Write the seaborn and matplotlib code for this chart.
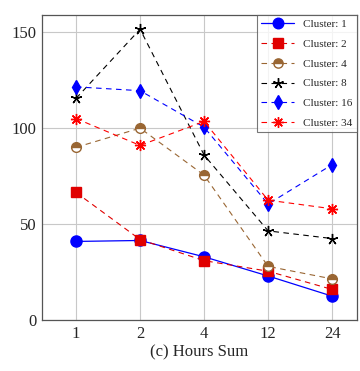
import pandas as pd
import numpy as np
import matplotlib.pyplot as plt
import seaborn as sns

hours = ['1', '2', '4', '12', '24']
c1 = [41, 41.5, 33, 23, 12.5]
c2 = [66.5, 42, 31, 25.5, 16]
c4 = [90, 100, 75.5, 28, 21.5]
c8 = [115.5, 151.5, 86, 46.5, 42.5]
c16 = [121.5, 119.5, 100.5, 60.5, 81]
c34 = [105, 91, 103.5, 62.5, 58]

labels = ['Cluster: 1', 'Cluster: 2', 'Cluster: 4', 'Cluster: 8', 'Cluster: 16', 'Cluster: 34']
series = [c1, c2, c4, c8, c16, c34]

brown = '#996633'
styles = [
    dict(color='blue', marker='o', ls='-', ms=8, lw=0.9),
    dict(color='#e00000', marker='s', ls=(0, (5, 4)), ms=7.5, lw=0.8),
    dict(color=brown, marker='o', ls=(0, (5, 4)), ms=7, lw=0.8, fillstyle='top', markerfacecoloralt='white'),
    dict(color='black', marker=(5, 2, 0), ls=(0, (5, 4)), ms=8, lw=0.8),
    dict(color='blue', marker='d', ls=(0, (5, 4)), ms=7, lw=0.8),
    dict(color='red', marker=(8, 2, 0), ls=(0, (5, 4)), ms=8, lw=0.8),
]

sns.set_style('whitegrid')
plt.rcParams['font.family'] = ['Liberation Serif', 'DejaVu Serif']
plt.rcParams['mathtext.fontset'] = 'stix'

fig, ax = plt.subplots(figsize=(3.6, 3.71), dpi=100)
for lab, vals, st in zip(labels, series, styles):
    df = pd.DataFrame({'Hours': hours, 'Value': vals})
    sns.lineplot(data=df, x='Hours', y='Value', ax=ax, sort=False, label=lab,
                 color=st['color'], marker=st['marker'], markersize=st['ms'],
                 linewidth=st['lw'], markeredgewidth=1 if st['marker'] in ['o', 's', 'd'] else 1.0,
                 markeredgecolor=st['color'])
    line = ax.lines[-1]
    line.set_linestyle(st['ls'])
    if 'fillstyle' in st:
        line.set_fillstyle(st['fillstyle'])
        line.set_markerfacecoloralt(st['markerfacecoloralt'])

ax.set_xlim(-0.53, 4.39)
ax.set_ylim(0, 159)
ax.set_yticks([0, 50, 100, 150])
ax.set_xlabel('(c) Hours Sum', fontsize=12, labelpad=2)
ax.set_ylabel('')
ax.tick_params(labelsize=12, length=0, pad=4)
ax.grid(True, color='#c8c8c8', lw=0.8)
for s in ax.spines.values():
    s.set_color('#555555')
    s.set_linewidth(0.9)

leg = ax.legend(loc='upper right', fontsize=8, frameon=True, fancybox=False,
                handlelength=3, borderaxespad=0.0, labelspacing=0.9, handletextpad=0.8)
leg.get_frame().set_edgecolor('#555555')
leg.get_frame().set_linewidth(0.8)
for h in leg.get_lines():
    h.set_markersize(h.get_markersize() * 0.95)

fig.subplots_adjust(left=0.117, right=0.992, top=0.96, bottom=0.137)
fig.savefig('out.png', dpi=100)
